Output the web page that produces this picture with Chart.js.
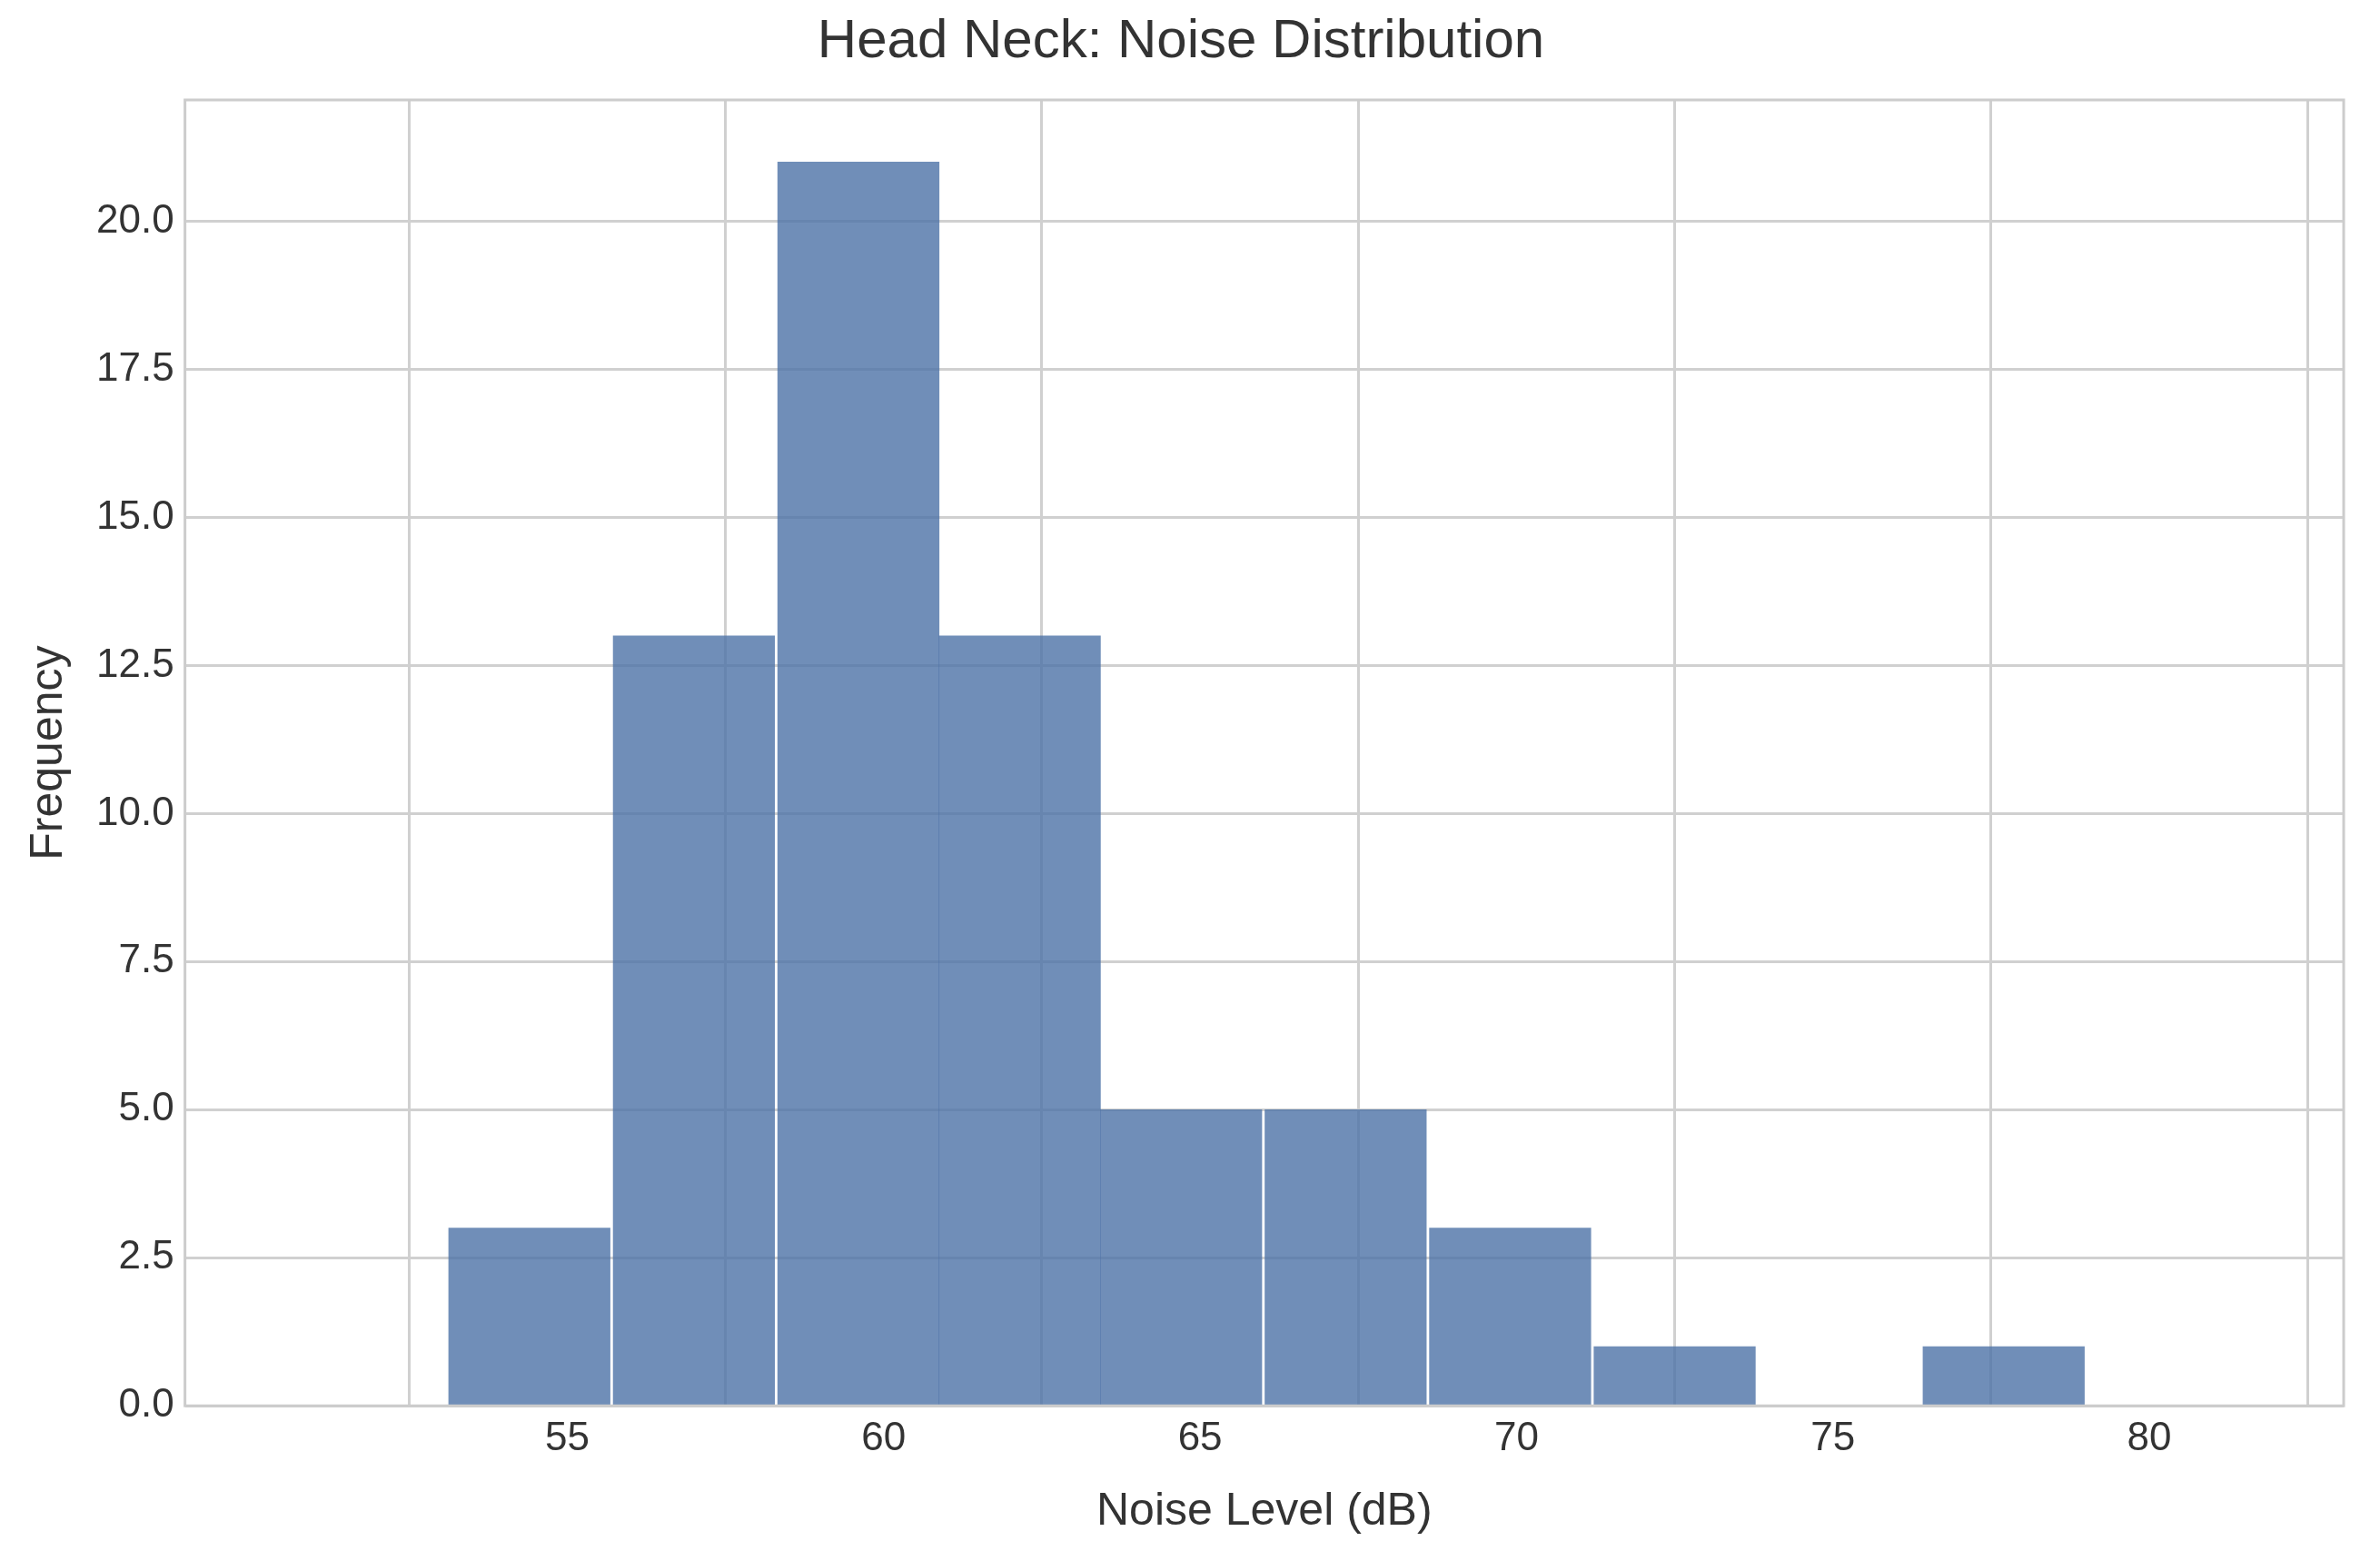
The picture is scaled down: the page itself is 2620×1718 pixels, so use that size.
<!DOCTYPE html>
<html>
<head>
<meta charset="utf-8">
<script src="https://cdn.jsdelivr.net/npm/chart.js@4/dist/chart.umd.min.js"></script>
<style>
  html, body { margin: 0; padding: 0; background: #fff; }
</style>
</head>
<body>
<canvas id="chart" width="2620" height="1718" style="width:2620px;height:1718px;display:block"></canvas>
<script>
// histogram bins (dB) and counts
const binEdges = [53.1, 55.7, 58.3, 60.9, 63.4, 66.0, 68.6, 71.2, 73.8, 76.4, 79.0];
const counts = [3, 13, 21, 13, 5, 5, 3, 1, 0, 1];
const xTicks = [55, 60, 65, 70, 75, 80];
const yTicks = [0, 2.5, 5, 7.5, 10, 12.5, 15, 17.5, 20];

const points = counts.map((c, i) => ({ x: (binEdges[i] + binEdges[i + 1]) / 2, y: c }));

const frame = {
  id: "frame",
  afterDraw(chart) {
    const a = chart.chartArea;
    const ctx = chart.ctx;
    ctx.save();
    ctx.strokeStyle = "#cccccc";
    ctx.lineWidth = 3;
    ctx.strokeRect(a.left, a.top, a.right - a.left, a.bottom - a.top);
    ctx.restore();
  }
};

const font = "'Liberation Sans', Arial, sans-serif";

new Chart(document.getElementById("chart"), {
  type: "bar",
  data: {
    datasets: [{
      data: points,
      backgroundColor: "rgba(76, 114, 166, 0.8)",
      borderWidth: 0,
      barPercentage: 1,
      categoryPercentage: 1,
      grouped: false
    }]
  },
  options: {
    responsive: false,
    animation: false,
    devicePixelRatio: 1,
    layout: { padding: { top: 10, right: 40, left: 20, bottom: 20 } },
    plugins: {
      legend: { display: false },
      tooltip: { enabled: false },
      title: {
        display: true,
        text: "Head Neck: Noise Distribution",
        color: "#333",
        font: { family: font, size: 60, weight: "normal" },
        padding: { top: 0, bottom: 28 }
      }
    },
    scales: {
      x: {
        type: "linear",
        min: 51.8,
        max: 80.23,
        afterBuildTicks: (s) => { s.ticks = xTicks.map(v => ({ value: v })); },
        ticks: { color: "#333", font: { family: font, size: 44 }, padding: 10 },
        grid: { color: "#d0d0d0", lineWidth: 3, drawTicks: false },
        border: { display: false },
        title: { display: true, text: "Noise Level (dB)", color: "#333", font: { family: font, size: 50 }, padding: { top: 14 } }
      },
      y: {
        min: 0,
        max: 22.05,
        afterBuildTicks: (s) => { s.ticks = yTicks.map(v => ({ value: v })); },
        ticks: { color: "#333", font: { family: font, size: 44 }, padding: 12, callback: (v) => Number(v).toFixed(1) },
        grid: { color: "#d0d0d0", lineWidth: 3, drawTicks: false },
        border: { display: false },
        title: { display: true, text: "Frequency", color: "#333", font: { family: font, size: 50 }, padding: { bottom: 10 } }
      }
    }
  },
  plugins: [frame]
});
</script>
</body>
</html>
